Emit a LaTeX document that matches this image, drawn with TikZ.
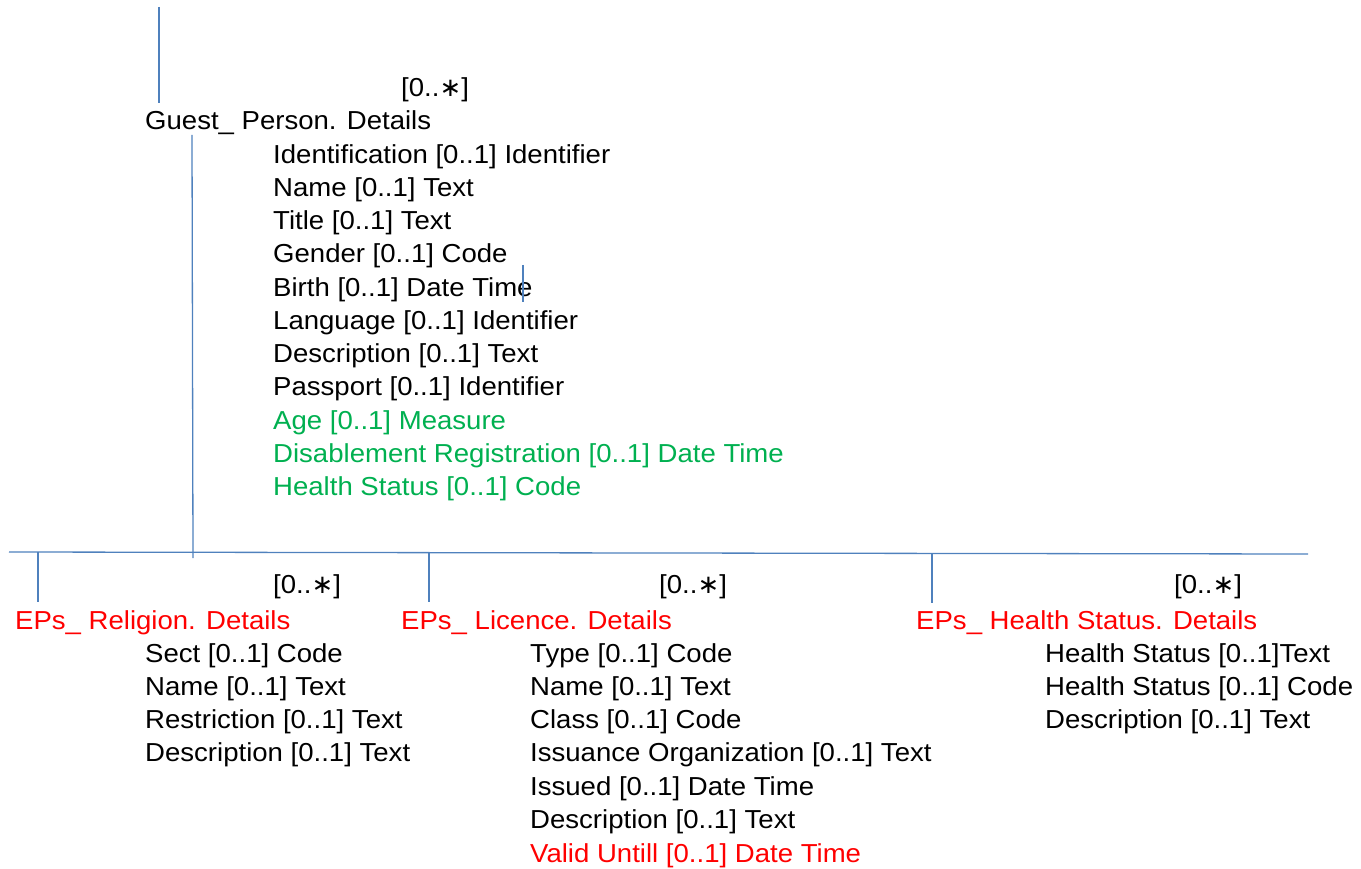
\documentclass[tikz,border=0pt]{standalone}
\usepackage{fontspec}
\setmainfont[FakeStretch=1.06]{Liberation Sans}
\newfontfamily\symfont{DejaVu Sans}
\newcommand{\mstar}{{\symfont ∗}}
\definecolor{lineblue}{RGB}{79,129,189}
\definecolor{attgreen}{RGB}{0,176,80}
\definecolor{attred}{RGB}{255,0,0}
\begin{document}
\begin{tikzpicture}[x=1pt,y=-1pt,
  lbl/.style={anchor=west,inner sep=0pt,yshift=-2pt,font=\fontsize{26}{30}\selectfont},
  grn/.style={lbl,text=attgreen},
  rd/.style={lbl,text=attred},
  conn/.style={draw=lineblue,line width=1.3pt}]
\useasboundingbox (0,0) rectangle (1361,869);
% top part
\node[lbl] (m0) at (401,88) {[0..\mstar]};
\node[lbl] (gp) at (145,121) {Guest\_ Person. Details};
\node[lbl] (a1) at (273,155) {Identification [0..1] Identifier};
\node[lbl] (a2) at (273,188) {Name [0..1] Text};
\node[lbl] (a3) at (273,221) {Title [0..1] Text};
\node[lbl] (a4) at (273,254) {Gender [0..1] Code};
\node[lbl] (a5) at (273,288) {Birth [0..1] Date Time};
\node[lbl] (a6) at (273,321) {Language [0..1] Identifier};
\node[lbl] (a7) at (273,354) {Description [0..1] Text};
\node[lbl] (a8) at (273,387) {Passport [0..1] Identifier};
\node[grn] (a9) at (273,421) {Age [0..1] Measure};
\node[grn] (a10) at (273,454) {Disablement Registration [0..1] Date Time};
\node[grn] (a11) at (273,487) {Health Status [0..1] Code};
% religion
\node[lbl] (m1) at (273,585) {[0..\mstar]};
\node[rd] (rel) at (15,621) {EPs\_ Religion. Details};
\node[lbl] (r1) at (145,654) {Sect [0..1] Code};
\node[lbl] (r2) at (145,687) {Name [0..1] Text};
\node[lbl] (r3) at (145,720) {Restriction [0..1] Text};
\node[lbl] (r4) at (145,753) {Description [0..1] Text};
% licence
\node[lbl] (m2) at (659,585) {[0..\mstar]};
\node[rd] (lic) at (401,621) {EPs\_ Licence. Details};
\node[lbl] (l1) at (530,654) {Type [0..1] Code};
\node[lbl] (l2) at (530,687) {Name [0..1] Text};
\node[lbl] (l3) at (530,720) {Class [0..1] Code};
\node[lbl] (l4) at (530,753) {Issuance Organization [0..1] Text};
\node[lbl] (l5) at (530,787) {Issued [0..1] Date Time};
\node[lbl] (l6) at (530,820) {Description [0..1] Text};
\node[rd] (l7) at (530,854) {Valid Untill [0..1] Date Time};
% health
\node[lbl] (m3) at (1174,585) {[0..\mstar]};
\node[rd] (hs) at (916,621) {EPs\_ Health Status. Details};
\node[lbl] (h1) at (1045,654) {Health Status [0..1]Text};
\node[lbl] (h2) at (1045,687) {Health Status [0..1] Code};
\node[lbl] (h3) at (1045,720) {Description [0..1] Text};
% connectors
\coordinate (t0) at (159,7);
\coordinate (t1) at (159,103);
\coordinate (s0) at (192,135);
\coordinate (s1) at (193,558);
\coordinate (hl) at (9,552);
\coordinate (hr) at (1308,554);
\coordinate (b1t) at (38,552);
\coordinate (b1b) at (38,602);
\coordinate (b2t) at (429,553);
\coordinate (b2b) at (429,602);
\coordinate (b3t) at (932,553.5);
\coordinate (b3b) at (932,603);
\coordinate (k0) at (523,265);
\coordinate (k1) at (523,302);
\draw[conn] (t0) -- (t1);
\draw[conn] (s0) -- (s1);
\draw[conn] (hl) -- (hr);
\draw[conn] (b1t) -- (b1b);
\draw[conn] (b2t) -- (b2b);
\draw[conn] (b3t) -- (b3b);
\draw[conn] (k0) -- (k1);
\end{tikzpicture}
\end{document}
